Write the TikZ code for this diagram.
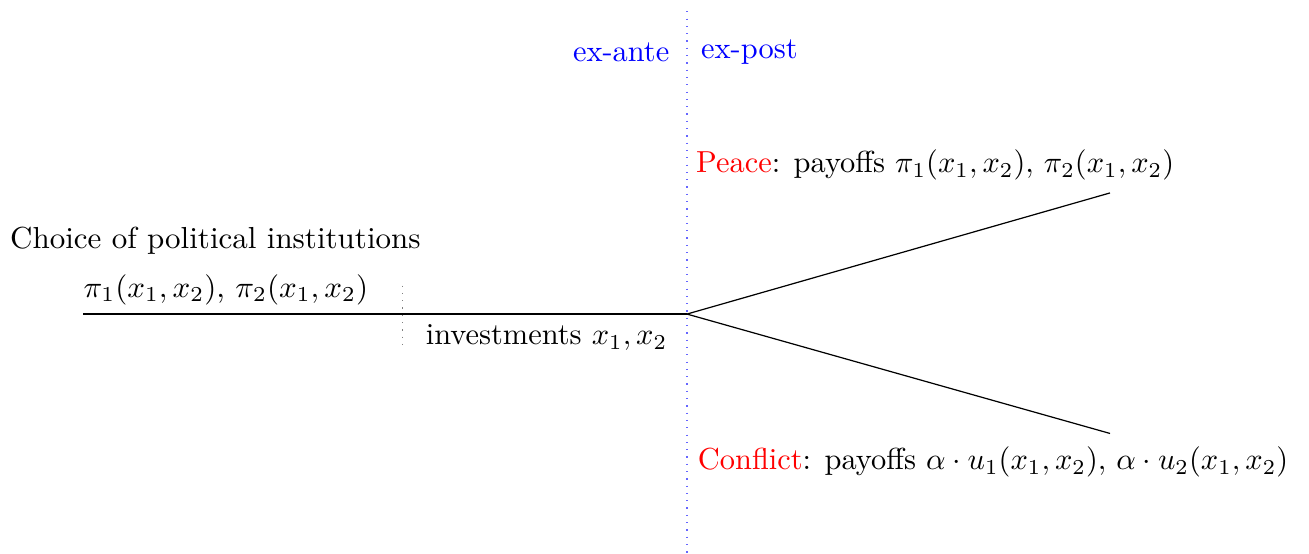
\documentclass[tikz,border=0pt]{standalone}
\usepackage{amsmath}
\usepackage{xcolor}
\usepackage{tikz}
\usetikzlibrary{positioning}

\begin{document}
\begin{tikzpicture}[stage/.style={text=blue}, outcome/.style={text=red}]
  \useasboundingbox (0,0) rectangle (15.13,6.40);
  % Time line and the fork
  \coordinate (start) at (0.96,2.77);
  \coordinate (fork) at (7.94,2.77);
  \coordinate (peaceend) at (12.83,4.17);
  \coordinate (conflictend) at (12.83,1.39);
  \draw (start) -- (fork);
  \draw (fork) -- (peaceend);
  \draw (fork) -- (conflictend);
  % Ex-ante / ex-post divide
  \coordinate (divtop) at (7.94,6.27);
  \coordinate (divbot) at (7.94,0);
  \draw[blue!60, dotted] (divtop) -- (divbot);
  \node[stage, anchor=east] (exante) at (7.86,5.80) {ex-ante};
  \node[stage, anchor=west] (expost) at (7.98,5.80) {ex-post};
  % Investment stage marker
  \coordinate (invtop) at (4.65,3.10);
  \coordinate (invbot) at (4.65,2.42);
  \draw[gray, dotted] (invtop) -- (invbot);
  % Labels
  \node[anchor=west, inner sep=0pt, xscale=1.02] (choice) at (0.11,3.62) {Choice of political institutions};
  \node[anchor=west, inner sep=0pt, xscale=1.02] (payoffs) at (0.96,3.05) {$\pi_1(x_1,x_2)$, $\pi_2(x_1,x_2)$};
  \node[anchor=east, inner sep=0pt] (invest) at (7.72,2.50) {investments $x_1,x_2$};
  \node[anchor=west, inner sep=0pt] (peace) at (8.04,4.49)
    {\textcolor{red}{Peace}: payoffs $\pi_1(x_1,x_2),\, \pi_2(x_1,x_2)$};
  \node[anchor=west, inner sep=0pt] (conflict) at (8.06,1.06)
    {\textcolor{red}{Conflict}: payoffs $\alpha\cdot u_1(x_1,x_2),\, \alpha\cdot u_2(x_1,x_2)$};
\end{tikzpicture}
\end{document}
